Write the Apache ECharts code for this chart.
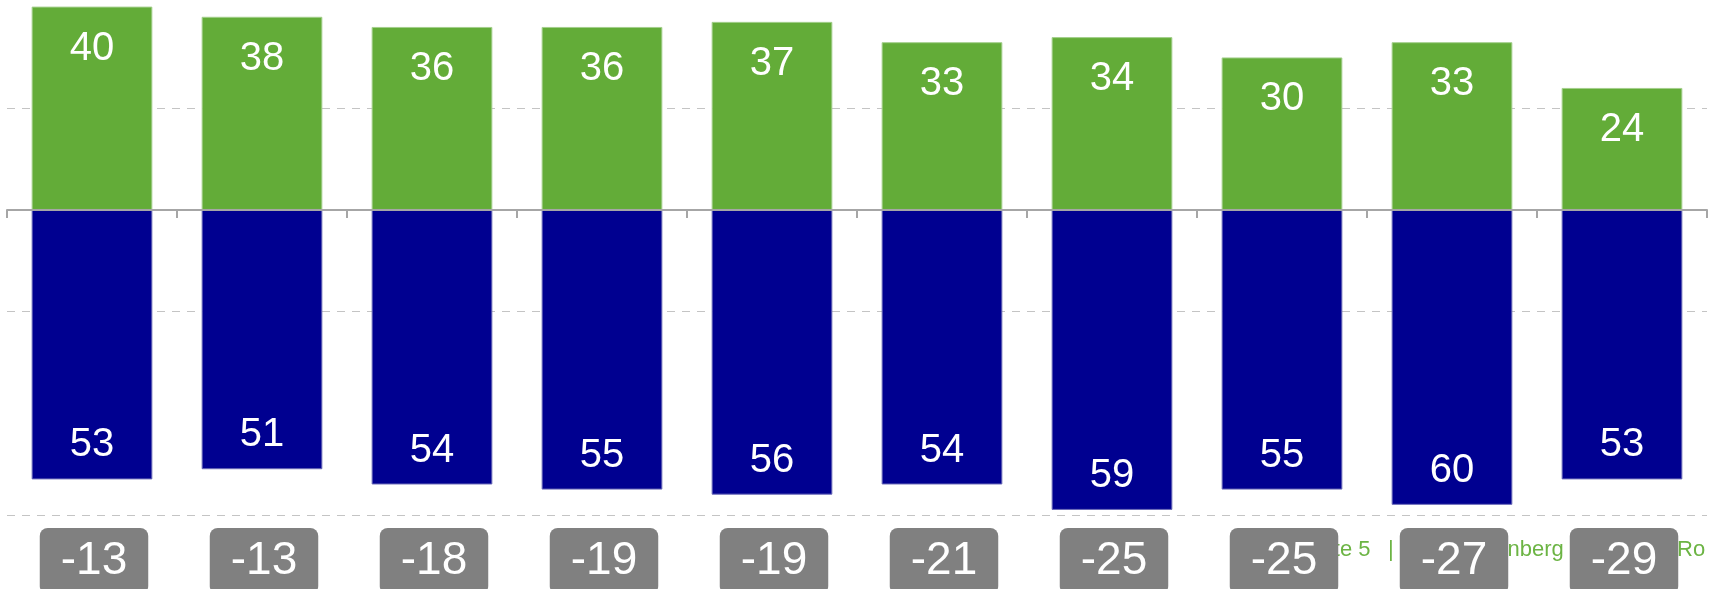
<!DOCTYPE html>
<html>
<head>
<meta charset="utf-8">
<script src="https://cdn.jsdelivr.net/npm/echarts@6/dist/echarts.min.js"></script>
<style>
  html, body { margin: 0; padding: 0; background: #ffffff; }
  #chart { width: 1709px; height: 589px; }
</style>
</head>
<body>
<div id="chart"></div>
<script>
// ---- data ----
var categories = ['1', '2', '3', '4', '5', '6', '7', '8', '9', '10'];
// bar lengths
var greenValues = [40, 38, 36, 36, 37, 33, 34, 30, 33, 24];
var blueValues = [53, 51, 54, 55, 56, 54, 59, 55, 58, 53];
// printed labels
var greenLabels = ['40', '38', '36', '36', '37', '33', '34', '30', '33', '24'];
var blueLabels = ['53', '51', '54', '55', '56', '54', '59', '55', '60', '53'];
var netLabels = ['-13', '-13', '-18', '-19', '-19', '-21', '-25', '-25', '-27', '-29'];
var footerParts = ['Seite 5', '|', 'Nürnberg', 'Ro'];

var GREEN = '#63AC38';
var BLUE = '#000090';
var FONT = 'Liberation Sans, Arial, sans-serif';
var FOOT = '22px ' + FONT;
var FOOT_COLOR = '#6CB444';

var chart = echarts.init(document.getElementById('chart'), null, { renderer: 'canvas' });

chart.setOption({
  animation: false,
  backgroundColor: '#ffffff',
  textStyle: { fontFamily: FONT },
  grid: [
    { left: 7, right: 2, top: 0, bottom: 74, containLabel: false, outerBoundsMode: 'none' },
    { left: 9, right: 0, top: 0, bottom: 74, containLabel: false, outerBoundsMode: 'none' }
  ],
  graphic: [
    { type: 'text', z: -1, left: 1302, top: 539,
      style: { text: footerParts[0], fill: FOOT_COLOR, font: FOOT } },
    { type: 'text', z: -1, left: 1388, top: 539,
      style: { text: footerParts[1], fill: FOOT_COLOR, font: FOOT } },
    { type: 'text', z: -1, left: 1472, top: 539,
      style: { text: footerParts[2], fill: FOOT_COLOR, font: FOOT } },
    { type: 'text', z: -1, left: 1677, top: 539,
      style: { text: footerParts[3], fill: FOOT_COLOR, font: FOOT } }
  ],
  xAxis: [
    {
      type: 'category',
      gridIndex: 0,
      data: categories,
      axisLine: { show: true, onZero: true, lineStyle: { color: '#a6a6a6', width: 2 } },
      axisTick: { show: true, length: 8, lineStyle: { color: '#a6a6a6', width: 2 } },
      axisLabel: { show: false },
      splitLine: { show: false },
      z: 5
    },
    {
      type: 'category',
      gridIndex: 1,
      data: netLabels,
      position: 'bottom',
      axisLine: { show: false, onZero: false },
      axisTick: { show: false },
      splitLine: { show: false },
      axisLabel: {
        show: true,
        interval: 0,
        margin: 13,
        color: '#ffffff',
        fontSize: 46,
        fontFamily: FONT,
        backgroundColor: '#808080',
        borderRadius: 8,
        padding: [10, 21, 10, 21]
      },
      z: 3
    }
  ],
  yAxis: [
    {
      type: 'value',
      gridIndex: 0,
      min: -60,
      max: 41.3,
      interval: 40,
      axisLine: { show: false },
      axisTick: { show: false },
      axisLabel: { show: false },
      splitLine: {
        show: true,
        showMinLine: true,
        showMaxLine: false,
        lineStyle: { color: '#c4c4c4', width: 1, type: [8, 7] }
      }
    },
    {
      type: 'value',
      gridIndex: 1,
      min: -60,
      max: 41.3,
      show: false,
      splitLine: { show: false }
    }
  ],
  series: [
    {
      name: 'positive',
      type: 'bar',
      xAxisIndex: 0,
      yAxisIndex: 0,
      data: greenValues,
      barWidth: '71%',
      barGap: '-100%',
      itemStyle: { color: GREEN, borderColor: '#a3cf8c', borderWidth: 1 },
      label: {
        show: true,
        position: 'insideTop',
        distance: 22,
        color: '#ffffff',
        fontSize: 40,
        fontFamily: FONT,
        formatter: function (p) { return greenLabels[p.dataIndex]; }
      },
      z: 2
    },
    {
      name: 'negative',
      type: 'bar',
      xAxisIndex: 0,
      yAxisIndex: 0,
      data: blueValues.map(function (v) { return -v; }),
      barWidth: '71%',
      barGap: '-100%',
      itemStyle: { color: BLUE, borderColor: '#6a6ab8', borderWidth: 1 },
      label: {
        show: true,
        position: 'insideBottom',
        distance: 14,
        color: '#ffffff',
        fontSize: 40,
        fontFamily: FONT,
        formatter: function (p) { return blueLabels[p.dataIndex]; }
      },
      z: 2
    }
  ]
});
</script>
</body>
</html>
